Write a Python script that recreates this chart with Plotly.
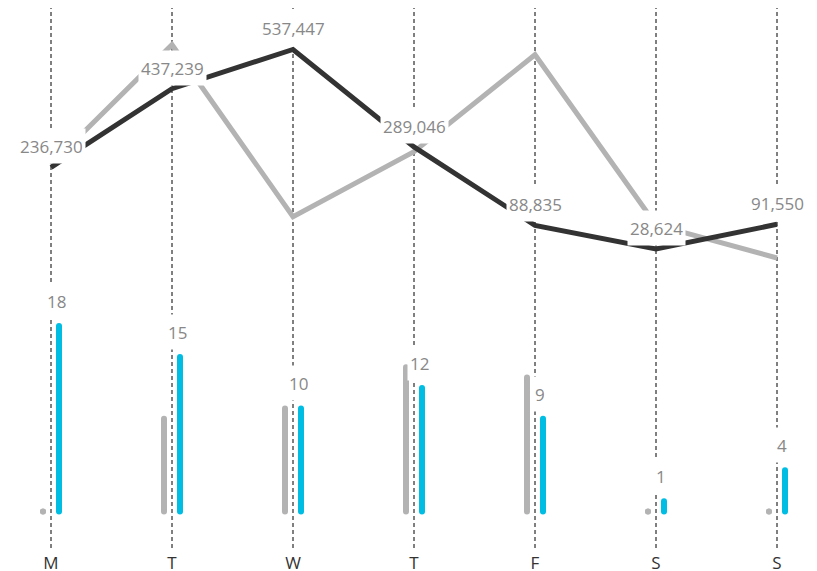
import plotly.graph_objects as go

days = ["M", "T", "W", "T", "F", "S", "S"]
line_current = [236730, 437239, 537447, 289046, 88835, 28624, 91550]
line_previous = [244000, 549500, 110900, 276700, 524000, 90300, 5600]
bars_previous = [0, 9, 10, 14, 13, 0, 0]
bars_current = [18, 15, 10, 12, 9, 1, 4]

FONT = "Open Sans"
GREY = "#b3b3b3"
DARK = "#333333"
BLUE = "#00bde3"
LABEL = "#888888"
OFF = 8 / 121  # bar offset from category centre (style)

xs = list(range(len(days)))


def segments(values, shift):
    sx, sy = [], []
    for i, v in zip(xs, values):
        sx += [i + shift, i + shift, None]
        sy += [0, v, None]
    return sx, sy


fig = go.Figure()

# lines (top panel)
fig.add_trace(go.Scatter(x=xs, y=line_previous, mode="lines", yaxis="y",
                         line=dict(color=GREY, width=5), hoverinfo="skip"))
fig.add_trace(go.Scatter(x=xs, y=line_current, mode="lines", yaxis="y",
                         line=dict(color=DARK, width=5), hoverinfo="skip"))

# bars (bottom panel) drawn as rounded thin segments
for vals, shift, col in [(bars_previous, -OFF, GREY), (bars_current, OFF, BLUE)]:
    sx, sy = segments(vals, shift)
    fig.add_trace(go.Scatter(x=sx, y=sy, mode="lines+markers", yaxis="y2",
                             line=dict(color=col, width=6),
                             marker=dict(color=col, size=6, line=dict(width=0)),
                             hoverinfo="skip"))

shapes = []
for i in xs:
    shapes.append(dict(type="line", xref="x", yref="paper", x0=i, x1=i, y0=0, y1=1,
                       line=dict(color="#000000", width=1, dash="4px,3px"), layer="below"))

annotations = []
for i, v in zip(xs, line_current):
    annotations.append(dict(x=i, y=v, xref="x", yref="y", text=f"{v:,}", showarrow=False,
                            yshift=21, bgcolor="white", borderpad=2, height=30,
                            font=dict(family=FONT, size=17, color=LABEL)))
for i, v in zip(xs, bars_current):
    annotations.append(dict(x=i + OFF, y=v, xref="x", yref="y2", text=f"{v:,}", showarrow=False,
                            yshift=25, xshift=-3, bgcolor="white", borderpad=2, height=30,
                            font=dict(family=FONT, size=17, color=LABEL)))

fig.update_layout(
    width=809, height=563,
    margin=dict(l=0, r=0, t=0, b=23),
    paper_bgcolor="white", plot_bgcolor="white",
    showlegend=False,
    shapes=shapes,
    annotations=annotations,
    xaxis=dict(range=[-43 / 121, 6 + 40 / 121], tickmode="array", tickvals=xs, ticktext=days,
               showgrid=False, zeroline=False, showline=False, ticks="",
               tickfont=dict(family=FONT, size=17, color=DARK), automargin=False,
               ticklabelstandoff=3),
    yaxis=dict(range=[-733890, 643110], visible=False, domain=[0, 1]),
    yaxis2=dict(range=[-3.544, 48.88], visible=False, overlaying="y", domain=[0, 1]),
)

fig.write_html("out.html")
